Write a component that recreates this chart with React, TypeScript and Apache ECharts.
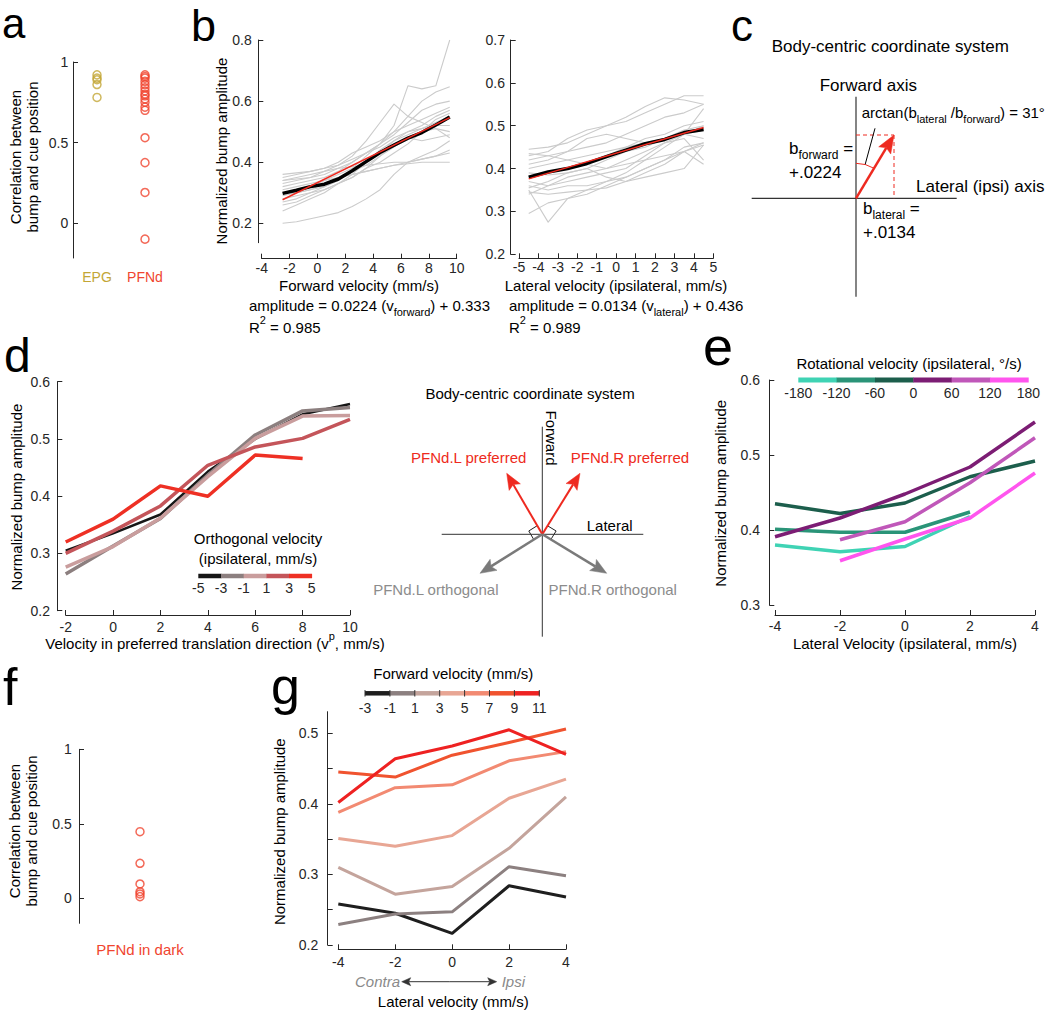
import React, { useEffect, useRef } from "react";
import * as echarts from "echarts";

const FONT = "'Liberation Sans', Arial, Helvetica, sans-serif";
const INK = "#262626";
const RED = "#ee2a20";
const EPG_COLOR = "#c3a636";
const PFND_COLOR = "#f0452f";
const FLY_GRAY = "#cbcbcb";
const ARROW_GRAY = "#7a7a7a";

// ---------- panel a ----------
const A_CATEGORIES = ["EPG", "PFNd"];
const A_EPG = [0.92, 0.9, 0.89, 0.86, 0.78];
const A_PFND = [0.92, 0.91, 0.9, 0.88, 0.86, 0.84, 0.82, 0.8, 0.79, 0.77, 0.75, 0.72, 0.7, 0.53, 0.375, 0.19, -0.1];
const A_Y_TICKS = [0, 0.5, 1];

// ---------- panel b (forward) ----------
const B_FWD_X = [-2.5, -1.5, -0.5, 0.5, 1.5, 2.5, 3.5, 4.5, 5.5, 6.5, 7.5, 8.5, 9.5];
const B_FWD_MEAN = [0.298, 0.308, 0.32, 0.328, 0.345, 0.372, 0.402, 0.432, 0.456, 0.479, 0.497, 0.522, 0.548];
const B_FWD_FIT_X = [-2.5, 9.5];
const B_FWD_FIT = [0.277, 0.546];
const B_FWD_FLIES = [
  [0.2, 0.205, 0.215, 0.225, 0.235, 0.255, 0.28, 0.31, 0.36, 0.4, 0.42, 0.44, 0.47],
  [0.3, 0.31, 0.32, 0.34, 0.36, 0.38, 0.42, 0.46, 0.52, 0.65, 0.64, 0.65, 0.8],
  [0.34, 0.345, 0.35, 0.36, 0.38, 0.4, 0.43, 0.46, 0.5, 0.55, 0.6, 0.63, 0.647],
  [0.31, 0.32, 0.33, 0.34, 0.35, 0.36, 0.37, 0.38, 0.39, 0.395, 0.4, 0.4, 0.4],
  [0.29, 0.3, 0.31, 0.33, 0.35, 0.36, 0.37, 0.38, 0.39, 0.4, 0.41, 0.42, 0.44],
  [0.33, 0.34, 0.35, 0.37, 0.39, 0.41, 0.43, 0.46, 0.49, 0.53, 0.57, 0.59, 0.6],
  [0.36, 0.365, 0.37, 0.38, 0.4, 0.43, 0.45, 0.47, 0.5, 0.52, 0.54, 0.56, 0.58],
  [0.27, 0.28, 0.3, 0.32, 0.34, 0.37, 0.4, 0.44, 0.47, 0.5, 0.52, 0.55, 0.57],
  [0.24, 0.26, 0.28, 0.3, 0.33, 0.36, 0.4, 0.43, 0.47, 0.49, 0.51, 0.53, 0.55],
  [0.32, 0.33, 0.34, 0.35, 0.37, 0.4, 0.43, 0.45, 0.48, 0.5, 0.51, 0.52, 0.52],
  [0.35, 0.36, 0.37, 0.38, 0.39, 0.42, 0.47, 0.53, 0.59, 0.55, 0.53, 0.51, 0.5],
  [0.28, 0.29, 0.3, 0.31, 0.33, 0.35, 0.38, 0.42, 0.46, 0.48, 0.47, 0.48, 0.49],
  [0.3, 0.3, 0.31, 0.32, 0.34, 0.37, 0.39, 0.42, 0.45, 0.48, 0.5, 0.51, 0.48],
  [0.26, 0.27, 0.29, 0.31, 0.33, 0.35, 0.38, 0.4, 0.43, 0.46, 0.5, 0.54, 0.56],
  [0.34, 0.35, 0.36, 0.37, 0.38, 0.385, 0.39, 0.395, 0.4, 0.4, 0.41, 0.42, 0.43],
];
const B_FWD_Y_TICKS = [0.2, 0.4, 0.6, 0.8];

// ---------- panel b (lateral) ----------
const B_LAT_X = [-4.5, -3.5, -2.5, -1.5, -0.5, 0.5, 1.5, 2.5, 3.5, 4.5];
const B_LAT_MEAN = [0.38, 0.392, 0.4, 0.412, 0.428, 0.443, 0.458, 0.468, 0.484, 0.491];
const B_LAT_FIT_X = [-4.5, 4.5];
const B_LAT_FIT = [0.376, 0.496];
const B_LAT_FLIES = [
  [0.295, 0.32, 0.33, 0.34, 0.36, 0.38, 0.4, 0.42, 0.45, 0.46],
  [0.35, 0.275, 0.33, 0.35, 0.37, 0.39, 0.42, 0.45, 0.48, 0.54],
  [0.445, 0.45, 0.46, 0.48, 0.5, 0.52, 0.545, 0.565, 0.56, 0.55],
  [0.43, 0.44, 0.47, 0.49, 0.5, 0.51, 0.53, 0.55, 0.57, 0.57],
  [0.42, 0.43, 0.44, 0.45, 0.46, 0.48, 0.5, 0.52, 0.53, 0.55],
  [0.4, 0.41, 0.42, 0.43, 0.44, 0.45, 0.47, 0.48, 0.5, 0.51],
  [0.39, 0.385, 0.39, 0.4, 0.42, 0.44, 0.45, 0.47, 0.49, 0.5],
  [0.37, 0.36, 0.37, 0.38, 0.39, 0.4, 0.43, 0.46, 0.48, 0.49],
  [0.36, 0.35, 0.36, 0.36, 0.37, 0.38, 0.4, 0.42, 0.44, 0.46],
  [0.345, 0.34, 0.345, 0.35, 0.355, 0.37, 0.39, 0.41, 0.44, 0.455],
  [0.34, 0.36, 0.38, 0.39, 0.4, 0.41, 0.42, 0.43, 0.44, 0.41],
  [0.435, 0.43, 0.42, 0.41, 0.4, 0.42, 0.44, 0.46, 0.47, 0.42],
  [0.38, 0.39, 0.4, 0.41, 0.43, 0.45, 0.46, 0.47, 0.48, 0.47],
  [0.355, 0.37, 0.39, 0.4, 0.38, 0.37, 0.38, 0.39, 0.4, 0.455],
  [0.41, 0.42, 0.44, 0.47, 0.48, 0.47, 0.46, 0.47, 0.48, 0.5],
];
const B_LAT_Y_TICKS = [0.2, 0.3, 0.4, 0.5, 0.6, 0.7];

// ---------- panel d ----------
const D_X = [-2, 0, 2, 4, 6, 8, 10];
const D_COLORS = ["#161616", "#8c7f7f", "#c99d9d", "#c4555a", "#ee3024"];
const D_BAR_LABELS = ["-5", "-3", "-1", "1", "3", "5"];
const D_LINES = [
  [0.305, 0.335, 0.368, 0.443, 0.5, 0.543, 0.561],
  [0.264, 0.313, 0.361, 0.437, 0.507, 0.549, 0.555],
  [0.276, 0.312, 0.362, 0.434, 0.501, 0.54, 0.541],
  [0.3, 0.339, 0.383, 0.454, 0.486, 0.501, 0.534],
  [0.32, 0.36, 0.418, 0.4, 0.472, 0.466, null],
];
const D_Y_TICKS = [0.2, 0.3, 0.4, 0.5, 0.6];

// ---------- panel e ----------
const E_X = [-4, -2, 0, 2, 4];
const E_COLORS = ["#3fd3b4", "#2a9478", "#1c5e4c", "#7c1d74", "#c057b9", "#ff55ee"];
const E_BAR_LABELS = ["-180", "-120", "-60", "0", "60", "120", "180"];
const E_LINES = [
  [0.38, 0.371, 0.378, 0.418, null],
  [0.401, 0.397, 0.397, 0.424, null],
  [0.435, 0.422, 0.436, 0.471, 0.492],
  [0.391, 0.416, 0.448, 0.484, 0.544],
  [null, 0.387, 0.411, 0.463, 0.523],
  [null, 0.359, 0.388, 0.416, 0.476],
];
const E_Y_TICKS = [0.3, 0.4, 0.5, 0.6];

// ---------- panel f ----------
const F_CATEGORIES = ["PFNd in dark"];
const F_VALUES = [0.447, 0.235, 0.096, 0.044, 0.029, 0.011];
const F_Y_TICKS = [0, 0.5, 1];

// ---------- panel g ----------
const G_X = [-4, -2, 0, 2, 4];
const G_COLORS = ["#1e1e1e", "#8c8080", "#c4a49c", "#e8a694", "#f28a72", "#f0532f", "#ee2222"];
const G_BAR_LABELS = ["-3", "-1", "1", "3", "5", "7", "9", "11"];
const G_LINES = [
  [0.258, 0.245, 0.2165, 0.284, 0.268],
  [0.229, 0.244, 0.247, 0.311, 0.298],
  [0.31, 0.272, 0.283, 0.337, 0.41],
  [0.351, 0.34, 0.355, 0.408, 0.435],
  [0.388, 0.423, 0.427, 0.461, 0.474],
  [0.445, 0.438, 0.469, 0.487, 0.506],
  [0.402, 0.464, 0.482, 0.505, 0.47],
];
const G_Y_TICKS = [0.2, 0.25, 0.3, 0.35, 0.4, 0.45, 0.5];
const G_Y_LABELS = [0.2, 0.3, 0.4, 0.5];

let measureCtx: CanvasRenderingContext2D | null = null;
function measure(t: string, size: number): number {
  if (!measureCtx) measureCtx = document.createElement("canvas").getContext("2d");
  if (!measureCtx) return t.length * size * 0.55;
  measureCtx.font = `${size}px ${FONT}`;
  return measureCtx.measureText(t).width;
}

function buildOption() {
  const g: any[] = [];
  const text = (x: number, y: number, t: string, o: any = {}) => {
    const size = o.size || 15;
    g.push({
      type: "text",
      x,
      y,
      rotation: o.rot || 0,
      silent: true,
      z: 10,
      style: {
        text: t,
        fill: o.color || "#000",
        fontSize: size,
        fontFamily: FONT,
        fontStyle: o.italic ? "italic" : "normal",
        align: o.align || "left",
        verticalAlign: "middle",
        lineHeight: o.lh,
      },
    });
  };
  // text with sub/superscripts; parts: [text, kind] kind: 0 normal, -1 sub, 1 sup
  const scripted = (x: number, y: number, parts: [string, number][], o: any = {}) => {
    const size = o.size || 15;
    const small = Math.round(size * 0.72);
    const shift = size * (o.shift ?? 0.45);
    const widths = parts.map(([t, k]) => measure(t, k === 0 ? size : small));
    const total = widths.reduce((a, b) => a + b, 0);
    let cx = o.align === "center" ? x - total / 2 : x;
    parts.forEach(([t, k], i) => {
      const yy = k === 0 ? y : k < 0 ? y + shift : y - shift;
      text(cx, yy, t, { size: k === 0 ? size : small, color: o.color });
      cx += widths[i];
    });
  };
  const letter = (x: number, baseline: number, t: string, size: number) =>
    text(x, baseline - 0.3465 * size, t, { size, lh: Math.round(size * 0.8) });
  const line = (x1: number, y1: number, x2: number, y2: number, stroke: string, lw = 1, dash?: number[]) =>
    g.push({ type: "line", silent: true, z: 5, shape: { x1, y1, x2, y2 }, style: { stroke, lineWidth: lw, lineDash: dash } });
  const arrow = (x0: number, y0: number, x1: number, y1: number, color: string, lw: number, len: number, hw: number, notch: number) => {
    const dx = x1 - x0, dy = y1 - y0, L = Math.hypot(dx, dy);
    const ux = dx / L, uy = dy / L, px = -uy, py = ux;
    const bx = x1 - ux * len, by = y1 - uy * len;
    const nx = x1 - ux * (len - notch), ny = y1 - uy * (len - notch);
    line(x0, y0, nx, ny, color, lw);
    g.push({
      type: "polygon",
      silent: true,
      z: 6,
      shape: { points: [[x1, y1], [bx + px * hw, by + py * hw], [nx, ny], [bx - px * hw, by - py * hw]] },
      style: { fill: color, stroke: color, lineWidth: 0.5 },
    });
  };
  const colorbar = (x0: number, yc: number, w: number, h: number, colors: string[], labels: string[], labelY: number, ticks: boolean) => {
    const seg = w / colors.length;
    colors.forEach((c, i) =>
      g.push({ type: "rect", silent: true, z: 5, shape: { x: x0 + i * seg, y: yc - h / 2, width: seg + 0.4, height: h }, style: { fill: c } })
    );
    if (ticks) {
      for (let i = 0; i <= colors.length; i++) line(x0 + i * seg, yc - h / 2 - 1, x0 + i * seg, yc + h / 2 + 1, "#333", 1);
    }
    labels.forEach((l, i) => text(x0 + i * seg, labelY, l, { size: 14, align: "center", color: INK }));
  };
  const unit = (dx: number, dy: number) => {
    const L = Math.hypot(dx, dy);
    return [dx / L, dy / L];
  };

  // ---------- panel letters ----------
  letter(2, 38.5, "a", 42);
  letter(191, 41, "b", 45);
  letter(731, 40.5, "c", 44);
  letter(4, 372, "d", 48);
  letter(703, 365, "e", 54);
  letter(3, 705, "f", 52);
  letter(271, 704, "g", 52);

  // ---------- panel a ----------
  text(23.5, 157, "Correlation between\nbump and cue position", { rot: Math.PI / 2, align: "center", lh: 17 });

  // ---------- panel b ----------
  text(221.5, 151, "Normalized bump amplitude", { rot: Math.PI / 2, align: "center" });
  text(359, 285, "Forward velocity (mm/s)", { align: "center" });
  scripted(249, 305, [["amplitude = 0.0224 (v", 0], ["forward", -1], [") + 0.333", 0]]);
  scripted(249, 327, [["R", 0], ["2", 1], [" = 0.985", 0]]);
  text(616, 285, "Lateral velocity (ipsilateral, mm/s)", { align: "center" });
  scripted(509, 305, [["amplitude = 0.0134 (v", 0], ["lateral", -1], [") + 0.436", 0]]);
  scripted(509, 327, [["R", 0], ["2", 1], [" = 0.989", 0]]);

  // ---------- panel c ----------
  const cO = [856, 198.3];
  const cTip = [894, 135];
  text(771.7, 46.7, "Body-centric coordinate system", { size: 17 });
  text(868.3, 85, "Forward axis", { size: 17, align: "center" });
  line(cO[0], 96.7, cO[0], 296.7, "#333", 1.2);
  line(751.7, cO[1], 956.7, cO[1], "#333", 1.2);
  line(cO[0], cTip[1], cTip[0], cTip[1], RED, 1, [4, 3]);
  line(cTip[0], cTip[1], cTip[0], cO[1], RED, 1, [4, 3]);
  arrow(cO[0], cO[1], cTip[0], cTip[1], RED, 2.5, 18, 7, 3);
  g.push({
    type: "arc",
    silent: true,
    z: 6,
    shape: { cx: cO[0], cy: cO[1], r: 35, startAngle: -Math.PI / 2, endAngle: Math.atan2(cTip[1] - cO[1], cTip[0] - cO[0]), clockwise: true },
    style: { stroke: RED, fill: "none", lineWidth: 1 },
  });
  line(865, 165, 875, 128.3, "#000", 1);
  scripted(861.7, 112, [["arctan(b", 0], ["lateral", -1], [" /b", 0], ["forward", -1], [") = 31°", 0]], { size: 15 });
  scripted(789, 148, [["b", 0], ["forward", -1], [" =", 0]], { size: 17, shift: 0.4 });
  text(789, 172, "+.0224", { size: 17 });
  text(916, 186.7, "Lateral (ipsi) axis", { size: 17 });
  scripted(863, 208, [["b", 0], ["lateral", -1], [" =", 0]], { size: 17, shift: 0.4 });
  text(863, 232, "+.0134", { size: 17 });

  // ---------- panel d ----------
  text(16.5, 497, "Normalized bump amplitude", { rot: Math.PI / 2, align: "center" });
  scripted(215, 643, [["Velocity in preferred translation direction (v", 0], ["p", 1], [", mm/s)", 0]], { align: "center" });
  text(258, 538.3, "Orthogonal velocity", { align: "center" });
  text(258, 558.3, "(ipsilateral, mm/s)", { align: "center" });
  colorbar(198.3, 576, 113.4, 4.5, D_COLORS, D_BAR_LABELS, 587.5, false);

  // diagram
  const O = [542.3, 534.3];
  text(530, 393.3, "Body-centric coordinate system", { align: "center" });
  line(O[0], 426.7, O[0], 636.7, "#333", 1);
  line(441.7, O[1], 643.3, O[1], "#333", 1);
  text(551.7, 438, "Forward", { rot: -Math.PI / 2, align: "center" });
  text(586.7, 525.7, "Lateral");
  const redL = [506.7, 473.3], redR = [580, 473.3], grayL = [480, 573.3], grayR = [606.7, 573.3];
  arrow(O[0], O[1], redL[0], redL[1], RED, 2, 16, 6.5, 3);
  arrow(O[0], O[1], redR[0], redR[1], RED, 2, 16, 6.5, 3);
  arrow(O[0], O[1], grayL[0], grayL[1], ARROW_GRAY, 2.5, 16, 6.5, 3);
  arrow(O[0], O[1], grayR[0], grayR[1], ARROW_GRAY, 2.5, 16, 6.5, 3);
  const square = (a: number[], b: number[]) => {
    const s = 10;
    const ua = unit(a[0] - O[0], a[1] - O[1]);
    const ub = unit(b[0] - O[0], b[1] - O[1]);
    g.push({
      type: "polyline",
      silent: true,
      z: 4,
      shape: {
        points: [
          [O[0] + s * ua[0], O[1] + s * ua[1]],
          [O[0] + s * ua[0] + s * ub[0], O[1] + s * ua[1] + s * ub[1]],
          [O[0] + s * ub[0], O[1] + s * ub[1]],
        ],
      },
      style: { stroke: "#222", fill: "none", lineWidth: 1 },
    });
  };
  square(redL, grayL);
  square(redR, grayR);
  text(468.7, 457.7, "PFNd.L preferred", { align: "center", color: RED });
  text(630, 457.7, "PFNd.R preferred", { align: "center", color: RED });
  text(435.8, 589.3, "PFNd.L orthogonal", { align: "center", color: "#8c8c8c" });
  text(612.7, 589.3, "PFNd.R orthogonal", { align: "center", color: "#8c8c8c" });

  // ---------- panel e ----------
  text(720, 493.3, "Normalized bump amplitude", { rot: Math.PI / 2, align: "center" });
  text(905, 643, "Lateral Velocity (ipsilateral, mm/s)", { align: "center" });
  text(909, 363.3, "Rotational velocity (ipsilateral, °/s)", { align: "center" });
  colorbar(798.3, 380, 230, 5, E_COLORS, E_BAR_LABELS, 393.3, false);

  // ---------- panel f ----------
  text(23, 831, "Correlation between\nbump and cue position", { rot: Math.PI / 2, align: "center", lh: 17 });

  // ---------- panel g ----------
  text(279, 831.7, "Normalized bump amplitude", { rot: Math.PI / 2, align: "center" });
  text(453.3, 673.3, "Forward velocity (mm/s)", { align: "center" });
  colorbar(365, 693.3, 174.3, 4.5, G_COLORS, G_BAR_LABELS, 708.3, true);
  text(355, 981.7, "Contra", { italic: true, color: "#8a8a8a" });
  text(501.7, 981.7, "Ipsi", { italic: true, color: "#8a8a8a" });
  arrow(449.2, 981.7, 401.7, 981.7, "#333", 1, 9, 4, 2);
  arrow(449.2, 981.7, 496.7, 981.7, "#333", 1, 9, 4, 2);
  text(453.3, 1001.7, "Lateral velocity (mm/s)", { align: "center" });

  // ---------- grids / axes ----------
  const grids = [
    { left: 73, top: 62, width: 96, height: 196 },
    { left: 261.7, top: 40, width: 195, height: 202.7 },
    { left: 519, top: 40, width: 194.3, height: 214.3 },
    { left: 65.7, top: 381.7, width: 284.3, height: 229 },
    { left: 775, top: 380, width: 260, height: 225 },
    { left: 79, top: 749.3, width: 122, height: 174 },
    { left: 338.3, top: 711.7, width: 227.7, height: 233.3 },
  ].map((gr) => ({ ...gr, containLabel: false, outerBoundsMode: "none", show: false }));

  const valAxis = (gridIndex: number, min: number, max: number, o: any = {}) => ({
    type: "value",
    gridIndex,
    min,
    max,
    interval: o.interval,
    offset: o.offset || 0,
    axisLine: { show: true, onZero: false, lineStyle: { color: INK, width: 1 } },
    axisTick: { show: true, inside: true, length: 5, lineStyle: { color: INK, width: 1 }, customValues: o.ticks },
    axisLabel: {
      show: true,
      color: INK,
      fontSize: 14,
      fontFamily: FONT,
      margin: o.margin ?? 6,
      customValues: o.labels || o.ticks,
      showMinLabel: true,
      showMaxLabel: true,
    },
    splitLine: { show: false },
  });
  const catAxis = (gridIndex: number, data: string[], color: (v: string) => string, margin: number, size: number) => ({
    type: "category",
    gridIndex,
    data,
    boundaryGap: true,
    axisLine: { show: false },
    axisTick: { show: false },
    axisLabel: { color, fontSize: size, fontFamily: FONT, margin },
    splitLine: { show: false },
  });

  const xAxis = [
    catAxis(0, A_CATEGORIES, (v: string) => (v === "EPG" ? EPG_COLOR : PFND_COLOR), 12, 14),
    valAxis(1, -4, 10, { interval: 2, offset: 16, margin: 2 }),
    valAxis(2, -5, 5, { interval: 1, offset: 4, margin: 2 }),
    valAxis(3, -2, 10, { interval: 2, offset: 4.3, margin: 5 }),
    valAxis(4, -4, 4, { interval: 2, offset: 10, margin: 4 }),
    catAxis(5, F_CATEGORIES, () => PFND_COLOR, 19, 15),
    valAxis(6, -4, 4, { interval: 2, offset: 4.3, margin: 6 }),
  ];
  const yAxis = [
    valAxis(0, -0.217, 1, { ticks: A_Y_TICKS, margin: 4.7 }),
    valAxis(1, 0.1365, 0.8, { ticks: B_FWD_Y_TICKS, offset: 3.4, margin: 6.6 }),
    valAxis(2, 0.2, 0.7, { ticks: B_LAT_Y_TICKS, offset: 8.3, margin: 5.7 }),
    valAxis(3, 0.2, 0.6, { ticks: D_Y_TICKS, offset: 8.4, margin: 7.3 }),
    valAxis(4, 0.3, 0.6, { ticks: E_Y_TICKS, offset: 5.7, margin: 9.3 }),
    valAxis(5, -0.168, 1, { ticks: F_Y_TICKS, margin: 7.3 }),
    valAxis(6, 0.2, 0.5306, { ticks: G_Y_TICKS, labels: G_Y_LABELS, offset: 10.6, margin: 9.4 }),
  ];

  const series: any[] = [];
  const lineS = (idx: number, xs: number[], ys: (number | null)[], color: string, width: number, z = 2) =>
    series.push({
      type: "line",
      xAxisIndex: idx,
      yAxisIndex: idx,
      data: xs.map((x, i) => [x, ys[i]]).filter((p) => p[1] !== null),
      showSymbol: false,
      symbol: "none",
      silent: true,
      z,
      lineStyle: { color, width, join: "round", cap: "butt" },
    });
  const scatterS = (idx: number, cat: string, vals: number[], color: string) =>
    series.push({
      type: "scatter",
      xAxisIndex: idx,
      yAxisIndex: idx,
      data: vals.map((v) => [cat, v]),
      symbol: "circle",
      symbolSize: 8,
      silent: true,
      itemStyle: { color: "rgba(0,0,0,0)", borderColor: color, borderWidth: 1.5 },
    });

  scatterS(0, A_CATEGORIES[0], A_EPG, EPG_COLOR);
  scatterS(0, A_CATEGORIES[1], A_PFND, PFND_COLOR);

  B_FWD_FLIES.forEach((ys) => lineS(1, B_FWD_X, ys, FLY_GRAY, 1.1, 1));
  lineS(1, B_FWD_X, B_FWD_MEAN, "#000", 3.5, 3);
  lineS(1, B_FWD_FIT_X, B_FWD_FIT, RED, 1.5, 4);
  B_LAT_FLIES.forEach((ys) => lineS(2, B_LAT_X, ys, FLY_GRAY, 1.1, 1));
  lineS(2, B_LAT_X, B_LAT_MEAN, "#000", 3.5, 3);
  lineS(2, B_LAT_FIT_X, B_LAT_FIT, RED, 1.5, 4);

  D_LINES.forEach((ys, i) => lineS(3, D_X, ys, D_COLORS[i], i === 0 ? 2.5 : 3.5, 2 + i));
  E_LINES.forEach((ys, i) => lineS(4, E_X, ys, E_COLORS[i], 3.5, 2 + i));
  scatterS(5, F_CATEGORIES[0], F_VALUES, PFND_COLOR);
  G_LINES.forEach((ys, i) => lineS(6, G_X, ys, G_COLORS[i], 3, 2 + i));

  return {
    animation: false,
    backgroundColor: "#fff",
    textStyle: { fontFamily: FONT },
    grid: grids,
    xAxis,
    yAxis,
    series,
    graphic: { elements: g },
  };
}

export default function App() {
  const ref = useRef<HTMLDivElement>(null);
  useEffect(() => {
    document.body.style.margin = "0";
    const chart = echarts.init(ref.current!, undefined, { renderer: "svg", width: 1050, height: 1011 });
    chart.setOption(buildOption() as any);
    return () => chart.dispose();
  }, []);
  return <div ref={ref} style={{ width: 1050, height: 1011, background: "#fff" }} />;
}
